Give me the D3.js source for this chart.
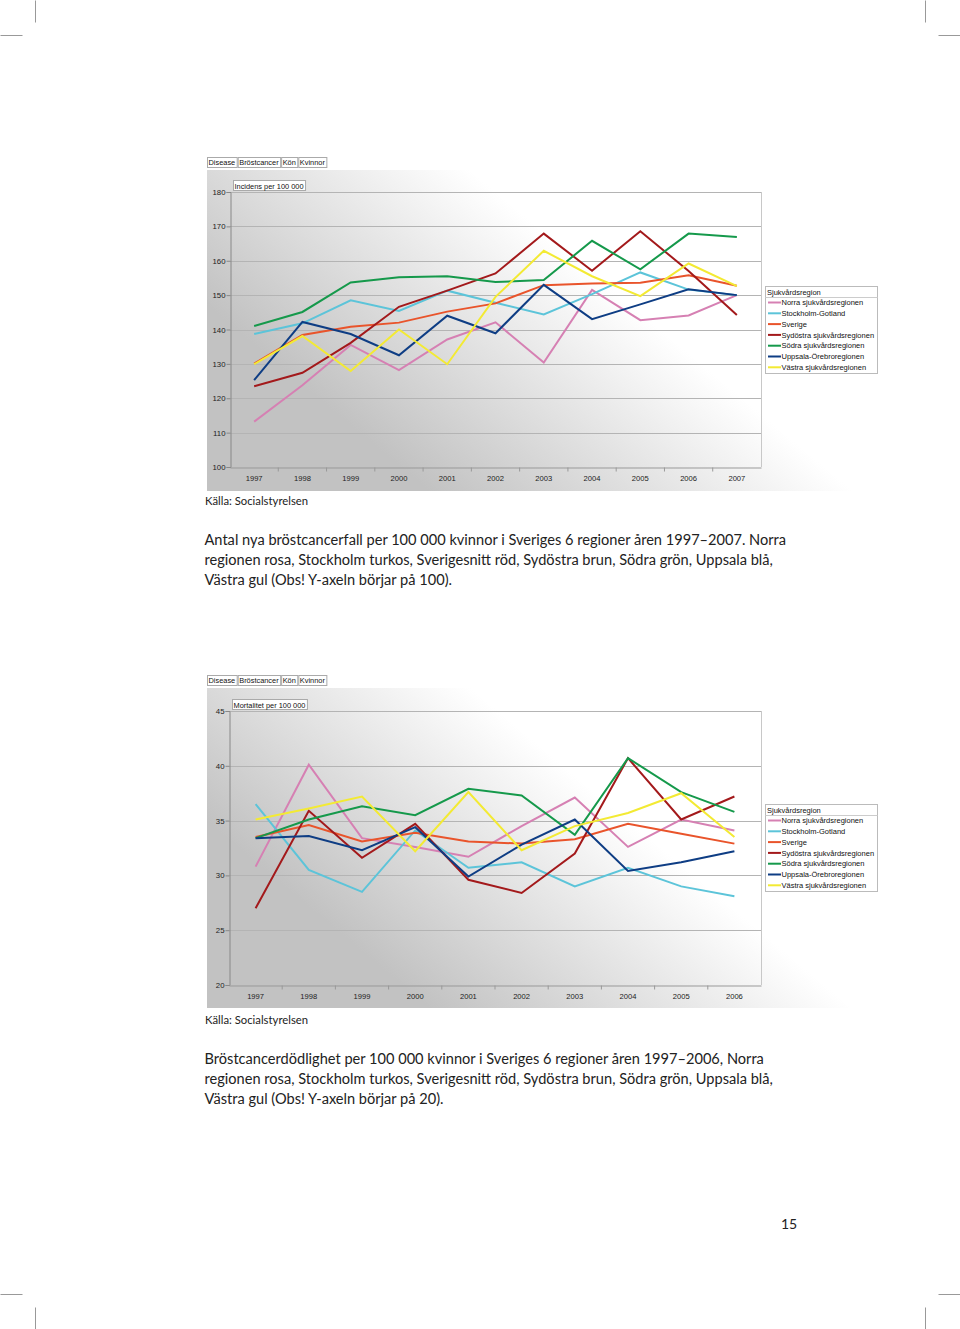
<!DOCTYPE html>
<html><head><meta charset="utf-8">
<script src="https://cdn.jsdelivr.net/npm/d3@7"></script>
<style>body{margin:0;background:#fff}svg{display:block}</style>
</head><body>
<svg id="page" width="960" height="1329"></svg>
<script>
// ---------- DATA ----------
const regions = ["Norra sjukvårdsregionen","Stockholm-Gotland","Sverige","Sydöstra sjukvårdsregionen","Södra sjukvårdsregionen","Uppsala-Örebroregionen","Västra sjukvårdsregionen"];
const regionColors = ["#d680b3","#5cc4d9","#e9542b","#a3191b","#15994b","#0e3d84","#f3ea33"];
const headerCells = ["Disease","Bröstcancer","Kön","Kvinnor"];
const legendTitle = "Sjukvårdsregion";
const sourceText = "Källa: Socialstyrelsen";

const incYears = ["1997","1998","1999","2000","2001","2002","2003","2004","2005","2006","2007"];
const incTicks = [100,110,120,130,140,150,160,170,180];
const incNorra     = [113.2,123.8,135.5,128.2,137.1,142.1,130.4,151.5,142.7,144.1,150.0];
const incStockholm = [138.7,141.8,148.5,145.4,151.3,147.8,144.4,150.3,156.6,151.6,150.0];
const incSverige   = [130.1,138.4,140.8,142.0,145.2,147.6,152.9,153.4,153.6,155.8,152.7];
const incSydostra  = [123.5,127.4,136.1,146.6,151.3,156.3,167.9,157.1,168.6,157.0,144.2];
const incSodra     = [141.0,145.1,153.7,155.2,155.5,153.8,154.4,165.8,157.5,167.9,166.9];
const incUppsala   = [125.3,142.2,138.7,132.5,144.0,138.9,153.0,143.0,147.3,151.7,150.0];
const incVastra    = [129.9,138.1,127.9,140.0,129.9,149.5,162.9,155.5,149.7,159.2,152.6];

const morYears = ["1997","1998","1999","2000","2001","2002","2003","2004","2005","2006"];
const morTicks = [20,25,30,35,40,45];
const morNorra     = [30.8,40.1,33.4,32.6,31.7,34.5,37.1,32.6,35.1,34.1];
const morStockholm = [36.5,30.5,28.5,34.1,30.7,31.2,29.0,30.7,29.0,28.1];
const morSverige   = [33.5,34.6,33.1,33.9,33.1,32.9,33.3,34.7,33.8,32.9];
const morSydostra  = [27.0,35.9,31.6,34.7,29.6,28.4,32.0,40.7,35.1,37.2];
const morSodra     = [33.4,35.1,36.3,35.5,37.9,37.3,33.7,40.7,37.6,35.8];
const morUppsala   = [33.4,33.6,32.3,34.4,29.9,32.8,35.1,30.4,31.2,32.2];
const morVastra    = [35.1,36.1,37.2,32.2,37.6,32.3,34.5,35.7,37.5,33.5];

const incCaption = ["Antal nya bröstcancerfall per 100 000 kvinnor i Sveriges 6 regioner åren 1997–2007. Norra",
  "regionen rosa, Stockholm turkos, Sverigesnitt röd, Sydöstra brun, Södra grön, Uppsala blå,",
  "Västra gul (Obs! Y-axeln börjar på 100)."];
const morCaption = ["Bröstcancerdödlighet per 100 000 kvinnor i Sveriges 6 regioner åren 1997–2006, Norra",
  "regionen rosa, Stockholm turkos, Sverigesnitt röd, Sydöstra brun, Södra grön, Uppsala blå,",
  "Västra gul (Obs! Y-axeln börjar på 20)."];
const pageNumber = "15";

// ---------- DRAW ----------
const svg = d3.select("#page");
const defs = svg.append("defs");
const smallFont = "'Liberation Sans', Arial, sans-serif";
const textFont = "Lato, 'Open Sans', sans-serif";

// crop marks
const cm = svg.append("g").attr("stroke","#999").attr("stroke-width",1);
[[35,0,35,22],[0,35,22,35],[925,0,925,22],[938,35,960,35],
 [35,1307,35,1329],[0,1294,22,1294],[925,1307,925,1329],[938,1294,960,1294]].forEach(l=>{
  cm.append("line").attr("x1",l[0]+.5).attr("y1",l[1]+.5).attr("x2",l[2]+.5).attr("y2",l[3]+.5);
});

function drawChart(o){
  const g = svg.append("g");
  const gid = "grad"+o.id;
  const B = o.box; // x0,y0,x1,y1 of gray background
  const w0 = B[2]-B[0], h0 = B[3]-B[1];
  const lg = defs.append("linearGradient").attr("id",gid).attr("gradientUnits","userSpaceOnUse")
    .attr("x1",B[0]+w0*0.62).attr("y1",B[1]+h0*0.40)
    .attr("x2",B[0]+w0*0.36).attr("y2",B[1]+h0*1.05);
  lg.append("stop").attr("offset",0).attr("stop-color","#ffffff");
  lg.append("stop").attr("offset",0.15).attr("stop-color","#f6f6f6");
  lg.append("stop").attr("offset",1).attr("stop-color","#c2c2c2");
  g.append("rect").attr("x",B[0]).attr("y",B[1]).attr("width",w0).attr("height",h0)
    .attr("fill","url(#"+gid+")");

  // header cells
  let hx = o.headerX;
  headerCells.forEach(t=>{
    const tx = g.append("text").attr("x",hx+1.5).attr("y",o.headerY+7.5).attr("font-family",smallFont)
      .attr("font-size",7.4).attr("fill","#111").text(t);
    const w = tx.node().getComputedTextLength()+3;
    g.insert("rect","text").attr("x",hx+.5).attr("y",o.headerY+.5).attr("width",w).attr("height",10)
      .attr("fill","#fff").attr("stroke","#aaa").attr("stroke-width",1);
    hx += w+1;
  });

  const P = o.plot;
  const x = d3.scaleBand().domain(o.years).range([P.left,P.right]);
  const y = d3.scaleLinear().domain([o.ticks[0],o.ticks[o.ticks.length-1]]).range([P.bottom,P.top]);

  // gridlines
  g.append("g").selectAll("line").data(o.ticks.slice(1)).join("line")
    .attr("x1",P.left).attr("x2",P.right).attr("y1",d=>Math.round(y(d))+.5).attr("y2",d=>Math.round(y(d))+.5)
    .attr("stroke","#b4b4b4").attr("stroke-width",1);
  // plot border right
  g.append("line").attr("x1",P.right+.5).attr("x2",P.right+.5).attr("y1",P.top).attr("y2",P.bottom)
    .attr("stroke","#c8c8c8");

  // y axis
  const yAxis = d3.axisLeft(y).tickValues(o.ticks).tickSize(4).tickFormat(d3.format("d"));
  const ya = g.append("g").attr("transform",`translate(${P.left+.5},0)`).call(yAxis);
  ya.select(".domain").attr("stroke","#888");
  ya.selectAll(".tick line").attr("stroke","#888");
  ya.selectAll(".tick text").attr("font-family",smallFont).attr("font-size",7.8).attr("fill","#222")
    .attr("x",-5).attr("dy","0.32em");

  // x axis
  const xAxis = d3.axisBottom(x).tickSize(0).tickSizeOuter(0);
  const xa = g.append("g").attr("transform",`translate(0,${Math.round(P.bottom)+.5})`).call(xAxis);
  xa.select(".domain").attr("stroke","#999");
  xa.selectAll(".tick text").attr("font-family",smallFont).attr("font-size",7.6).attr("fill","#222").attr("dy",10);
  // band boundary ticks
  xa.append("g").selectAll("line").data(o.years.slice(1)).join("line")
    .attr("x1",d=>x(d)).attr("x2",d=>x(d)).attr("y1",0).attr("y2",4).attr("stroke","#999");

  // y title box
  const tt = g.append("text").attr("x",P.left+4.5).attr("y",P.top-3).attr("font-family",smallFont)
    .attr("font-size",7.4).attr("fill","#111").text(o.yTitle);
  const tw = tt.node().getComputedTextLength()+3;
  g.insert("rect","text").attr("x",P.left+3.5).attr("y",P.top-11.5).attr("width",tw).attr("height",10)
    .attr("fill","#fff").attr("stroke","#aaa");

  // lines
  const line = d3.line().x((d,i)=>x(o.years[i])+x.bandwidth()/2).y(d=>y(d));
  o.series.forEach((s,i)=>{
    g.append("path").attr("d",line(s)).attr("fill","none").attr("stroke",regionColors[i])
      .attr("stroke-width",2).attr("stroke-linejoin","miter");
  });

  // legend
  const L = o.legend;
  g.append("rect").attr("x",L.x+.5).attr("y",L.y+.5).attr("width",112).attr("height",87)
    .attr("fill","#fff").attr("stroke","#bbb");
  g.append("line").attr("x1",L.x+.5).attr("x2",L.x+112.5).attr("y1",L.y+11.5).attr("y2",L.y+11.5).attr("stroke","#ccc");
  g.append("text").attr("x",L.x+2).attr("y",L.y+8.5).attr("font-family",smallFont).attr("font-size",7.5)
    .attr("fill","#111").text(legendTitle);
  regions.forEach((r,i)=>{
    const ly = L.y+16.5+i*10.8;
    g.append("line").attr("x1",L.x+3).attr("x2",L.x+16).attr("y1",ly).attr("y2",ly)
      .attr("stroke",regionColors[i]).attr("stroke-width",2);
    g.append("text").attr("x",L.x+16.5).attr("y",ly+2.7).attr("font-family",smallFont).attr("font-size",7.5)
      .attr("fill","#111").text(r);
  });

  // source
  g.append("text").attr("x",205).attr("y",o.sourceY).attr("font-family",textFont).attr("font-size",11.3)
    .attr("fill","#222").text(sourceText);
  // caption
  o.caption.forEach((t,i)=>{
    g.append("text").attr("x",204.5).attr("y",o.captionY+i*20).attr("font-family",textFont)
      .attr("font-size",14.6).attr("fill","#222").text(t);
  });
}

drawChart({id:1, box:[207,170,878,491], headerX:207, headerY:157,
  plot:{left:230,right:761,top:192,bottom:467}, years:incYears, ticks:incTicks,
  yTitle:"Incidens per 100 000",
  series:[incNorra,incStockholm,incSverige,incSydostra,incSodra,incUppsala,incVastra],
  legend:{x:765,y:286}, sourceY:505, captionY:545, caption:incCaption});

drawChart({id:2, box:[207,688,878,1008], headerX:207, headerY:675,
  plot:{left:229,right:761,top:711,bottom:985}, years:morYears, ticks:morTicks,
  yTitle:"Mortalitet per 100 000",
  series:[morNorra,morStockholm,morSverige,morSydostra,morSodra,morUppsala,morVastra],
  legend:{x:765,y:804}, sourceY:1024, captionY:1064, caption:morCaption});

svg.append("text").attr("x",781).attr("y",1229).attr("font-family",textFont).attr("font-size",14)
  .attr("fill","#222").text(pageNumber);
</script>
</body></html>
